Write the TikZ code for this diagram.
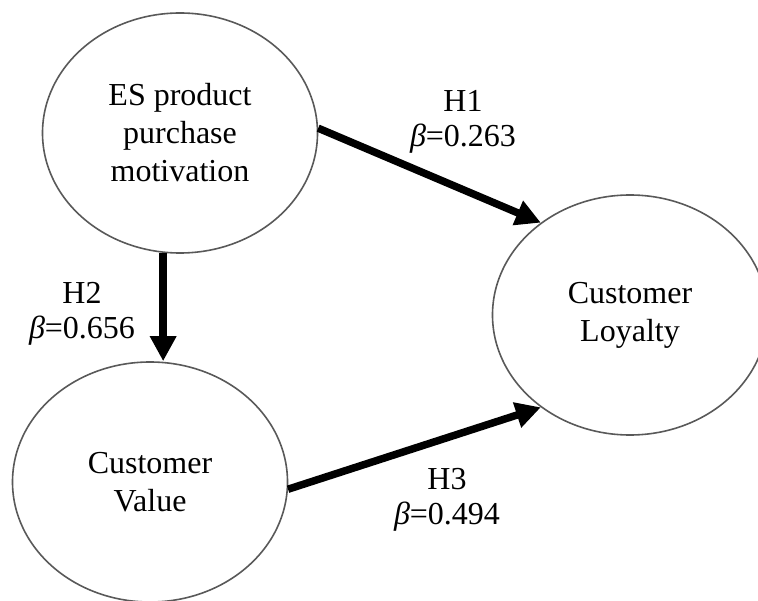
\documentclass[tikz,border=0pt]{standalone}
\usepackage{fontspec}
\setmainfont{Liberation Serif}
\usetikzlibrary{arrows.meta,shapes.geometric}

\tikzset{
  construct/.style={draw=black!65, line width=1.6pt, ellipse, minimum width=275pt, minimum height=240pt, inner sep=0pt, align=center, font=\fontsize{32}{38}\selectfont},
  pathlink/.style={line width=7.5pt, -{Triangle[length=25pt,width=25pt]}},
  coef/.style={align=center, inner sep=0pt, font=\fontsize{32}{35.5}\selectfont}
}

\begin{document}
\begin{tikzpicture}[x=1pt, y=-1pt]
\useasboundingbox (0,0) rectangle (758,601);
\begin{scope}
\clip (0,0) rectangle (758,601);
\node[construct] (mot) at (180,133) {ES product\\purchase\\motivation};
\node[construct] (val) at (150,482) {Customer\\Value};
\node[construct] (loy) at (630,315) {Customer\\Loyalty};
\end{scope}

\draw[pathlink] (mot.2) -- (loy.134);
\draw[pathlink] (mot.262) -- (mot.262 |- val.north);
\draw[pathlink] (val.-3) -- (loy.226);

\node[coef] (h1) at (463,122) {H1\\{\itshape β}=0.263};
\node[coef] (h2) at (82,314) {H2\\{\itshape β}=0.656};
\node[coef] (h3) at (447,500) {H3\\{\itshape β}=0.494};
\end{tikzpicture}
\end{document}
